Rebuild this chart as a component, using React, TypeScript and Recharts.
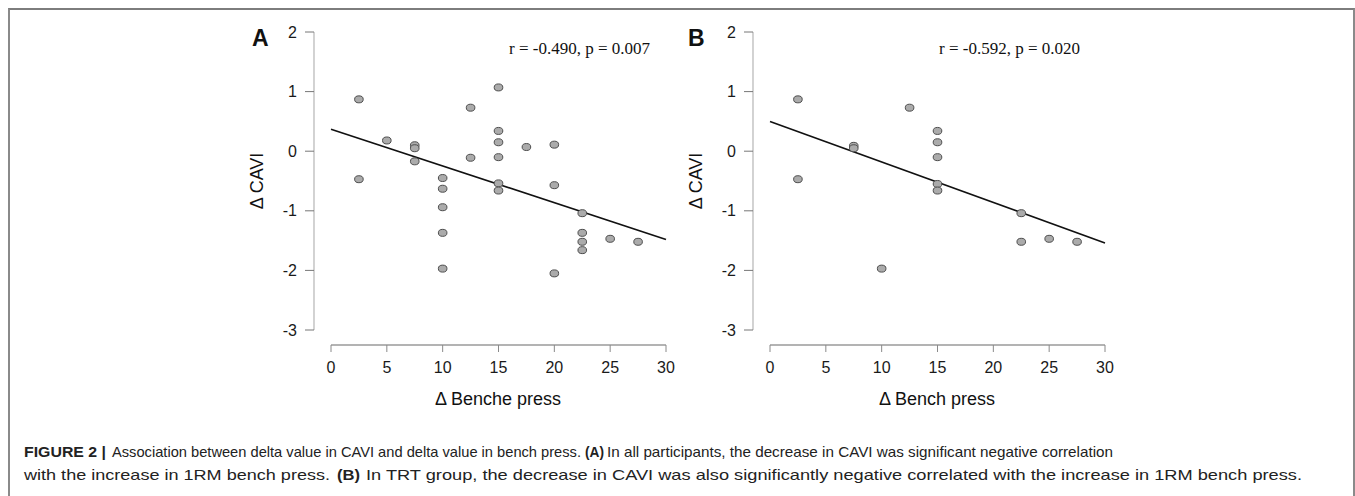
import { ScatterChart, Scatter, XAxis, YAxis, ReferenceLine } from "recharts";

// Δ bench press (kg) vs Δ CAVI
const benchAll = [2.5, 2.5, 5, 7.5, 7.5, 7.5, 10, 10, 10, 10, 10, 12.5, 12.5, 15, 15, 15, 15, 15, 15, 17.5, 20, 20, 20, 22.5, 22.5, 22.5, 22.5, 25, 27.5];
const caviAll = [0.87, -0.47, 0.18, 0.1, 0.05, -0.17, -0.45, -0.63, -0.94, -1.37, -1.97, 0.73, -0.11, 1.07, 0.34, 0.15, -0.1, -0.54, -0.66, 0.07, 0.11, -0.57, -2.05, -1.04, -1.37, -1.52, -1.66, -1.47, -1.52];

const benchTrt = [2.5, 2.5, 7.5, 7.5, 10, 12.5, 15, 15, 15, 15, 15, 22.5, 22.5, 25, 27.5];
const caviTrt = [0.87, -0.47, 0.09, 0.05, -1.97, 0.73, 0.34, 0.15, -0.1, -0.55, -0.66, -1.04, -1.52, -1.47, -1.52];

// fitted lines, end points
const fitX = [0, 30];
const fitAllY = [0.37, -1.48];
const fitTrtY = [0.5, -1.54];

const xTicks = [0, 5, 10, 15, 20, 25, 30];
const yTicks = [-3, -2, -1, 0, 1, 2];

const X_DOMAIN: [number, number] = [0, 30];
const Y_DOMAIN: [number, number] = [-3, 2];
const PAD_X = 17; // R-style detached axes
const PAD_Y = 15;

const SANS = "'Liberation Sans', Arial, Helvetica, sans-serif";
const SERIF = "'Liberation Serif', 'Times New Roman', serif";

// caption pieces: [text, bold, x start, x end]
const captionLine1: [string, boolean, number, number][] = [
  ["FIGURE 2 |", true, 24, 106],
  ["Association between delta value in CAVI and delta value in bench press.", false, 112, 581],
  ["(A)", true, 585, 604],
  ["In all participants, the decrease in CAVI was significant negative correlation", false, 607, 1113],
];
const captionLine2: [string, boolean, number, number][] = [
  ["with the increase in 1RM bench press.", false, 24, 330],
  ["(B)", true, 337, 360],
  ["In TRT group, the decrease in CAVI was also significantly negative correlated with the increase in 1RM bench press.", false, 366, 1302],
];

const toPoints = (xs: number[], ys: number[]) => xs.map((x, i) => ({ x, y: ys[i] }));

const Dot = (p: any) => (
  <ellipse cx={p.cx} cy={p.cy} rx={4.3} ry={3.5} fill="#ababab" stroke="#4d4d4d" strokeWidth={1} />
);

interface PanelProps {
  left: number;
  points: { x: number; y: number }[];
  fit: { x: number; y: number }[];
}

function Panel({ left, points, fit }: PanelProps) {
  const width = 500;
  const height = 400;
  const margin = { top: 32, right: 34, bottom: 25, left: 0 };
  const plotW = width - margin.right - 114 - PAD_X;
  const plotH = height - margin.top - margin.bottom - 30 - PAD_Y;
  // values where the detached axis lines sit
  const xLineAt = X_DOMAIN[0] - (PAD_X * (X_DOMAIN[1] - X_DOMAIN[0])) / plotW;
  const yLineAt = Y_DOMAIN[0] - (PAD_Y * (Y_DOMAIN[1] - Y_DOMAIN[0])) / plotH;

  return (
    <div style={{ position: "absolute", left, top: 0 }}>
      <ScatterChart width={width} height={height} margin={margin}>
        <XAxis
          type="number"
          dataKey="x"
          domain={X_DOMAIN}
          ticks={xTicks}
          padding={{ left: PAD_X, right: 0 }}
          height={30}
          axisLine={false}
          tickLine={{ stroke: "#8a8a8a" }}
          tickSize={7}
          tickMargin={10}
          tick={{ fill: "#1a1a1a", fontSize: 16, fontFamily: SANS }}
        />
        <YAxis
          type="number"
          dataKey="y"
          domain={Y_DOMAIN}
          ticks={yTicks}
          padding={{ top: 0, bottom: PAD_Y }}
          width={114}
          axisLine={false}
          tickLine={{ stroke: "#777" }}
          tickSize={9}
          tickMargin={8}
          tick={{ fill: "#1a1a1a", fontSize: 16, fontFamily: SANS }}
        />
        <ReferenceLine
          segment={[{ x: X_DOMAIN[0], y: yLineAt }, { x: X_DOMAIN[1], y: yLineAt }]}
          stroke="#9a9a9a"
          strokeWidth={1.5}
          ifOverflow="visible"
        />
        <ReferenceLine
          segment={[{ x: xLineAt, y: Y_DOMAIN[0] }, { x: xLineAt, y: Y_DOMAIN[1] }]}
          stroke="#b5b5b5"
          strokeWidth={1.2}
          ifOverflow="visible"
        />
        <Scatter
          data={fit}
          line={{ stroke: "#111", strokeWidth: 1.6 }}
          shape={() => <g />}
          isAnimationActive={false}
        />
        <Scatter data={points} shape={Dot} isAnimationActive={false} />
      </ScatterChart>
    </div>
  );
}

function CaptionLine({ parts, y, size }: { parts: [string, boolean, number, number][]; y: number; size: number }) {
  return (
    <>
      {parts.map(([t, bold, x0, x1], i) => (
        <text
          key={i}
          x={x0}
          y={y}
          fontFamily={SANS}
          fontSize={size}
          fontWeight={bold ? "bold" : "normal"}
          textLength={x1 - x0}
          lengthAdjust="spacingAndGlyphs"
        >
          {t}
        </text>
      ))}
    </>
  );
}

export default function App() {
  return (
    <div style={{ position: "absolute", left: 0, top: 0, width: 1355, height: 496, background: "#fff", overflow: "hidden" }}>
      <div
        style={{
          position: "absolute",
          left: 8,
          top: 8,
          width: 1347,
          height: 488,
          boxSizing: "border-box",
          borderTop: "2px solid #7d7d7d",
          borderLeft: "2px solid #8a8a8a",
          borderRight: "2px solid #8a8a8a",
        }}
      />
      <Panel left={200} points={toPoints(benchAll, caviAll)} fit={toPoints(fitX, fitAllY)} />
      <Panel left={639} points={toPoints(benchTrt, caviTrt)} fit={toPoints(fitX, fitTrtY)} />
      <svg width={1355} height={496} style={{ position: "absolute", left: 0, top: 0, pointerEvents: "none" }}>
        <g fontFamily={SANS} fill="#111">
          <text x={252} y={46} fontSize={23} fontWeight="bold">A</text>
          <text x={688} y={46} fontSize={23} fontWeight="bold">B</text>
          <text x={257} y={181} fontSize={18} textAnchor="middle" dominantBaseline="central" transform="rotate(-90 257 181)">
            Δ CAVI
          </text>
          <text x={696} y={181} fontSize={18} textAnchor="middle" dominantBaseline="central" transform="rotate(-90 696 181)">
            Δ CAVI
          </text>
          <text x={498} y={405} fontSize={18} textAnchor="middle">Δ Benche press</text>
          <text x={937} y={405} fontSize={18} textAnchor="middle">Δ Bench press</text>
        </g>
        <g fontFamily={SERIF} fontSize={17} fill="#111">
          <text x={509} y={54}>r = -0.490, p = 0.007</text>
          <text x={939} y={54}>r = -0.592, p = 0.020</text>
        </g>
        <g fill="#222">
          <CaptionLine parts={captionLine1} y={457} size={14.5} />
          <CaptionLine parts={captionLine2} y={480} size={15} />
        </g>
      </svg>
    </div>
  );
}
